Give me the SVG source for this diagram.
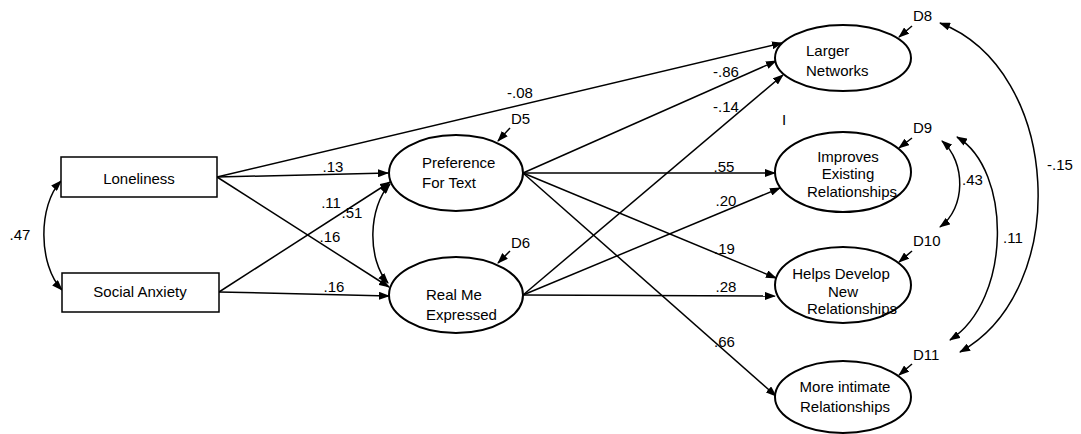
<svg xmlns="http://www.w3.org/2000/svg" width="1081" height="434" viewBox="0 0 1081 434">
<defs>
<marker id="ah" markerUnits="userSpaceOnUse" markerWidth="11" markerHeight="8" refX="10" refY="4" orient="auto-start-reverse" viewBox="0 0 11 8">
<path d="M0,0 L11,4 L0,8 z" fill="#000"/>
</marker>
<style>
text{font-family:"Liberation Sans",Arial,sans-serif;font-size:15px;fill:#000}
.m{text-anchor:middle}
.box{fill:#fff;stroke:#000;stroke-width:1.5}
.ell{fill:#fff;stroke:#000;stroke-width:2}
.c{fill:none;stroke:#000;stroke-width:1.5;marker-end:url(#ah)}
.d{fill:none;stroke:#000;stroke-width:1.5;marker-end:url(#ah);marker-start:url(#ah)}
</style>
</defs>
<rect width="1081" height="434" fill="#fff"/>
<g id="connectors">
<line class="c" x1="217" y1="177" x2="782" y2="43"/>
<line class="c" x1="217" y1="177" x2="388" y2="173"/>
<line class="c" x1="217" y1="177" x2="389" y2="287"/>
<line class="c" x1="219" y1="292" x2="390" y2="182"/>
<line class="c" x1="219" y1="292" x2="389" y2="296"/>
<line class="c" x1="523" y1="173" x2="776" y2="61"/>
<line class="c" x1="523" y1="173" x2="775" y2="173"/>
<line class="c" x1="523" y1="173" x2="776" y2="278"/>
<line class="c" x1="523" y1="173" x2="776" y2="396"/>
<line class="c" x1="523" y1="295" x2="783" y2="75"/>
<line class="c" x1="523" y1="295" x2="780" y2="188"/>
<line class="c" x1="523" y1="295" x2="775" y2="296"/>
<path class="d" d="M61,181 C38,205 38,265 62,290"/>
<path class="d" d="M390,184 C368,207 367,260 388,283"/>
<path class="d" d="M942,141 C966,162 966,208 940,227"/>
<path class="d" d="M957,137 C1012,170 1012,300 950,340"/>
<path class="d" d="M940,23 C1062,70 1072,290 960,352"/>
<line class="c" x1="510" y1="128" x2="498" y2="141"/>
<line class="c" x1="510" y1="251" x2="498" y2="263"/>
<line class="c" x1="912" y1="26" x2="899" y2="37"/>
<line class="c" x1="912" y1="138" x2="899" y2="148"/>
<line class="c" x1="912" y1="251" x2="899" y2="262"/>
<line class="c" x1="912" y1="364" x2="899" y2="375"/>
</g>
<g id="loneliness">
<rect class="box" x="61" y="157" width="156" height="40"/>
<text class="m" x="139" y="184">Loneliness</text>
</g>
<g id="social-anxiety">
<rect class="box" x="62" y="273" width="157" height="39"/>
<text class="m" x="140" y="297">Social Anxiety</text>
</g>
<g id="preference">
<ellipse class="ell" cx="456" cy="173" rx="67" ry="38"/>
<text x="422" y="168">Preference</text>
<text x="422" y="188">For Text</text>
</g>
<g id="realme">
<ellipse class="ell" cx="456" cy="295" rx="67" ry="38"/>
<text x="426" y="300">Real Me</text>
<text x="426" y="320">Expressed</text>
</g>
<g id="larger">
<ellipse class="ell" cx="843" cy="58" rx="68" ry="33"/>
<text x="806" y="56">Larger</text>
<text x="806" y="76">Networks</text>
</g>
<g id="improves">
<ellipse class="ell" cx="843" cy="172" rx="68" ry="40"/>
<text class="m" x="848" y="162">Improves</text>
<text class="m" x="848" y="179">Existing</text>
<text class="m" x="852" y="197">Relationships</text>
</g>
<g id="helps">
<ellipse class="ell" cx="843" cy="285" rx="68" ry="38"/>
<text class="m" x="841" y="279">Helps Develop</text>
<text class="m" x="843" y="297">New</text>
<text class="m" x="852" y="314">Relationships</text>
</g>
<g id="intimate">
<ellipse class="ell" cx="843" cy="397" rx="68" ry="36"/>
<text class="m" x="845" y="392">More intimate</text>
<text class="m" x="845" y="412">Relationships</text>
</g>
<g id="disturbances">
<text x="511" y="124">D5</text>
<text x="511" y="248">D6</text>
<text x="913" y="21">D8</text>
<text x="913" y="133">D9</text>
<text x="913" y="246">D10</text>
<text x="913" y="360">D11</text>
</g>
<g id="labels">
<text class="m" x="20" y="240">.47</text>
<text class="m" x="333" y="172">.13</text>
<text class="m" x="331" y="208">.11</text>
<text class="m" x="352" y="218">.51</text>
<text class="m" x="330" y="242">.16</text>
<text class="m" x="334" y="292">.16</text>
<text class="m" x="520" y="98">-.08</text>
<text class="m" x="726" y="77">-.86</text>
<text class="m" x="726" y="112">-.14</text>
<text class="m" x="724" y="172">.55</text>
<text class="m" x="726" y="206">.20</text>
<text x="714" y="254">.19</text>
<text class="m" x="726" y="292">.28</text>
<text x="714" y="347">.66</text>
<text x="782" y="125">I</text>
<text x="962" y="185">.43</text>
<text x="1003" y="243">.11</text>
<text x="1047" y="170">-.15</text>
</g>
</svg>
